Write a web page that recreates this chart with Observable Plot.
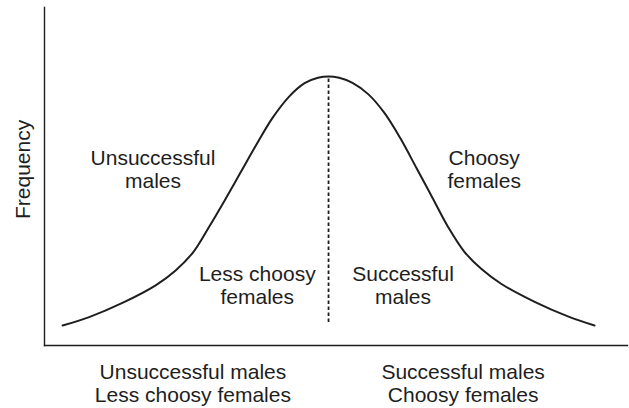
<!DOCTYPE html>
<html>
<head>
<meta charset="utf-8">
<script src="https://cdn.jsdelivr.net/npm/d3@7"></script>
<script src="https://cdn.jsdelivr.net/npm/@observablehq/plot@0.6"></script>
<style>
  html, body { margin: 0; padding: 0; background: #fff; }
  #chart svg { display: block; }
</style>
</head>
<body>
<div id="chart"></div>
<script>
// Trait value (0 = population mean) and relative frequency
const trait = [-10, -9, -7.75, -6.5, -5.75, -5.1, -4.5, -3.9, -3.3, -2.7, -2.1, -1.5, -0.9, -0.4, 0,
               0.4, 0.9, 1.5, 2.1, 2.7, 3.3, 3.9, 4.5, 5.1, 5.75, 6.5, 7.75, 9, 10];
const frequency = [5.9, 8.4, 12.6, 17.8, 22.2, 27.5, 35.0, 43.0, 51.3, 59.6, 67.4, 73.5, 77.6, 79.2, 79.6,
                   79.2, 77.7, 74.3, 68.8, 61.3, 52.6, 43.8, 35.0, 27.8, 22.6, 18.2, 12.9, 8.6, 5.9];

const meanTrait = [0];
const meanRange = [6.8, 79.0];

const axisTicks = [-5.1, 5.06];
const axisTickLabels = ["Unsuccessful males\nLess choosy females", "Successful males\nChoosy females"];

const upperLabels = ["Unsuccessful\nmales", "Choosy\nfemales"];
const upperLabelTrait = [-6.6, 5.85];
const lowerLabels = ["Less choosy\nfemales", "Successful\nmales"];
const lowerLabelTrait = [-2.68, 2.8];

const yLabel = "Frequency";

const curve = trait.map((t, i) => ({trait: t, frequency: frequency[i]}));
const ink = "#1e1e1e";

const chart = Plot.plot({
  width: 629,
  height: 408,
  marginLeft: 44,
  marginRight: 2,
  marginTop: 7,
  marginBottom: 63,
  style: {fontFamily: "'Liberation Sans', Arial, Helvetica, sans-serif", background: "#fff", color: ink},
  x: {domain: [-10.68, 11.24]},
  y: {domain: [0, 100], axis: null},
  marks: [
    Plot.frame({anchor: "left", stroke: ink, strokeWidth: 1.4}),
    Plot.frame({anchor: "bottom", stroke: ink, strokeWidth: 1.4}),
    Plot.axisX({ticks: axisTicks, tickSize: 0, tickPadding: 17, fontSize: 21, lineHeight: 1.1,
                tickFormat: (d, i) => axisTickLabels[i], label: null, fill: ink}),
    Plot.ruleX(meanTrait, {x: d => d, y1: meanRange[0], y2: meanRange[1], stroke: ink,
                           strokeWidth: 1.8, strokeDasharray: "3.5,2.5"}),
    Plot.line(curve, {x: "trait", y: "frequency", curve: "catmull-rom", stroke: ink, strokeWidth: 2}),
    Plot.text(upperLabels, {x: (d, i) => upperLabelTrait[i], y: 52.2, text: d => d, fontSize: 21,
                            lineHeight: 1.08, fill: ink}),
    Plot.text(lowerLabels, {x: (d, i) => lowerLabelTrait[i], y: 17.9, text: d => d, fontSize: 21,
                            lineHeight: 1.1, fill: ink}),
    Plot.text([yLabel], {x: -11.47, y: 52.1, text: d => d, rotate: -90, fontSize: 21, fill: ink})
  ]
});
document.getElementById("chart").append(chart);
</script>
</body>
</html>
